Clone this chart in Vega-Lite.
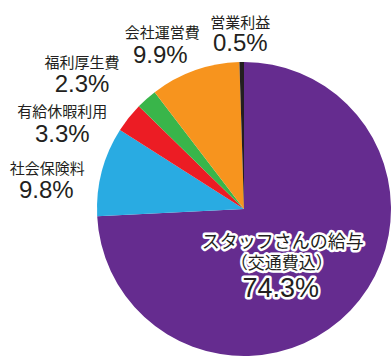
{
  "$schema": "https://vega.github.io/schema/vega-lite/v6.json",
  "autosize": {"type": "none"},
  "width": 200,
  "height": 200,
  "padding": {"left": 144, "top": 109, "right": 48, "bottom": 49},
  "background": "white",
  "config": {"view": {"stroke": null}},
  "data": {"values": [
    {"name": "スタッフさんの給与", "sub": "（交通費込）", "pct": "74.3%", "value": 74.3, "ord": 1},
    {"name": "社会保険料", "sub": "", "pct": "9.8%", "value": 9.8, "ord": 2},
    {"name": "有給休暇利用", "sub": "", "pct": "3.3%", "value": 3.3, "ord": 3},
    {"name": "福利厚生費", "sub": "", "pct": "2.3%", "value": 2.3, "ord": 4},
    {"name": "会社運営費", "sub": "", "pct": "9.9%", "value": 9.9, "ord": 5},
    {"name": "営業利益", "sub": "", "pct": "0.5%", "value": 0.5, "ord": 6}
  ]},
  "encoding": {
    "theta": {"field": "value", "type": "quantitative", "stack": true},
    "order": {"field": "ord", "type": "quantitative"}
  },
  "layer": [
    {"mark": {"type": "arc", "outerRadius": 147},
     "encoding": {"color": {"field": "name", "type": "nominal", "legend": null,
       "scale": {"domain": ["スタッフさんの給与", "社会保険料", "有給休暇利用", "福利厚生費", "会社運営費", "営業利益"],
                 "range": ["#652C8F", "#29ABE2", "#EC1C24", "#39B54A", "#F7941E", "#231F20"]}}}},

    {"mark": {"type": "text", "radius": 176, "dx": -1, "dy": -10, "font": "Noto Sans CJK JP", "fontSize": 15, "fill": "#231F20", "align": "center", "baseline": "middle"},
     "encoding": {"text": {"condition": {"test": "datum.name === '営業利益'", "field": "name"}, "value": ""}}},
    {"mark": {"type": "text", "radius": 176, "dx": -1, "dy": 11, "font": "Liberation Sans", "fontSize": 24, "fill": "#231F20", "align": "center", "baseline": "middle"},
     "encoding": {"text": {"condition": {"test": "datum.name === '営業利益'", "field": "pct"}, "value": ""}}},

    {"mark": {"type": "text", "radius": 175, "dx": -23, "dy": -11, "font": "Noto Sans CJK JP", "fontSize": 15, "fill": "#231F20", "align": "center", "baseline": "middle"},
     "encoding": {"text": {"condition": {"test": "datum.name === '会社運営費'", "field": "name"}, "value": ""}}},
    {"mark": {"type": "text", "radius": 175, "dx": -25, "dy": 12, "font": "Liberation Sans", "fontSize": 24, "fill": "#231F20", "align": "center", "baseline": "middle"},
     "encoding": {"text": {"condition": {"test": "datum.name === '会社運営費'", "field": "pct"}, "value": ""}}},

    {"mark": {"type": "text", "radius": 205, "dx": -26, "dy": 7, "font": "Noto Sans CJK JP", "fontSize": 15, "fill": "#231F20", "align": "center", "baseline": "middle"},
     "encoding": {"text": {"condition": {"test": "datum.name === '福利厚生費'", "field": "name"}, "value": ""}}},
    {"mark": {"type": "text", "radius": 205, "dx": -26, "dy": 29, "font": "Liberation Sans", "fontSize": 24, "fill": "#231F20", "align": "center", "baseline": "middle"},
     "encoding": {"text": {"condition": {"test": "datum.name === '福利厚生費'", "field": "pct"}, "value": ""}}},

    {"mark": {"type": "text", "radius": 200, "dx": -25, "dy": 27, "font": "Noto Sans CJK JP", "fontSize": 15, "fill": "#231F20", "align": "center", "baseline": "middle"},
     "encoding": {"text": {"condition": {"test": "datum.name === '有給休暇利用'", "field": "name"}, "value": ""}}},
    {"mark": {"type": "text", "radius": 200, "dx": -25, "dy": 50, "font": "Liberation Sans", "fontSize": 24, "fill": "#231F20", "align": "center", "baseline": "middle"},
     "encoding": {"text": {"condition": {"test": "datum.name === '有給休暇利用'", "field": "pct"}, "value": ""}}},

    {"mark": {"type": "text", "radius": 190, "dx": -13, "dy": 9, "font": "Noto Sans CJK JP", "fontSize": 15, "fill": "#231F20", "align": "center", "baseline": "middle"},
     "encoding": {"text": {"condition": {"test": "datum.name === '社会保険料'", "field": "name"}, "value": ""}}},
    {"mark": {"type": "text", "radius": 190, "dx": -14, "dy": 31, "font": "Liberation Sans", "fontSize": 24, "fill": "#231F20", "align": "center", "baseline": "middle"},
     "encoding": {"text": {"condition": {"test": "datum.name === '社会保険料'", "field": "pct"}, "value": ""}}},

    {"mark": {"type": "text", "radius": 70, "dx": -12, "dy": -14, "font": "Noto Sans CJK JP", "fontSize": 18, "fill": "white", "stroke": "white", "strokeWidth": 5, "strokeJoin": "round", "align": "center", "baseline": "middle"},
     "encoding": {"text": {"condition": {"test": "datum.ord === 1", "field": "name"}, "value": ""}}},
    {"mark": {"type": "text", "radius": 70, "dx": -13, "dy": 7, "font": "Noto Sans CJK JP", "fontSize": 17, "fill": "white", "stroke": "white", "strokeWidth": 5, "strokeJoin": "round", "align": "center", "baseline": "middle"},
     "encoding": {"text": {"condition": {"test": "datum.ord === 1", "field": "sub"}, "value": ""}}},
    {"mark": {"type": "text", "radius": 70, "dx": -14, "dy": 32, "font": "Liberation Sans", "fontSize": 27, "fill": "white", "stroke": "white", "strokeWidth": 5, "strokeJoin": "round", "align": "center", "baseline": "middle"},
     "encoding": {"text": {"condition": {"test": "datum.ord === 1", "field": "pct"}, "value": ""}}},
    {"mark": {"type": "text", "radius": 70, "dx": -12, "dy": -14, "font": "Noto Sans CJK JP", "fontSize": 18, "fill": "#231F20", "align": "center", "baseline": "middle"},
     "encoding": {"text": {"condition": {"test": "datum.ord === 1", "field": "name"}, "value": ""}}},
    {"mark": {"type": "text", "radius": 70, "dx": -13, "dy": 7, "font": "Noto Sans CJK JP", "fontSize": 17, "fill": "#231F20", "align": "center", "baseline": "middle"},
     "encoding": {"text": {"condition": {"test": "datum.ord === 1", "field": "sub"}, "value": ""}}},
    {"mark": {"type": "text", "radius": 70, "dx": -14, "dy": 32, "font": "Liberation Sans", "fontSize": 27, "fill": "#231F20", "align": "center", "baseline": "middle"},
     "encoding": {"text": {"condition": {"test": "datum.ord === 1", "field": "pct"}, "value": ""}}}
  ]
}
